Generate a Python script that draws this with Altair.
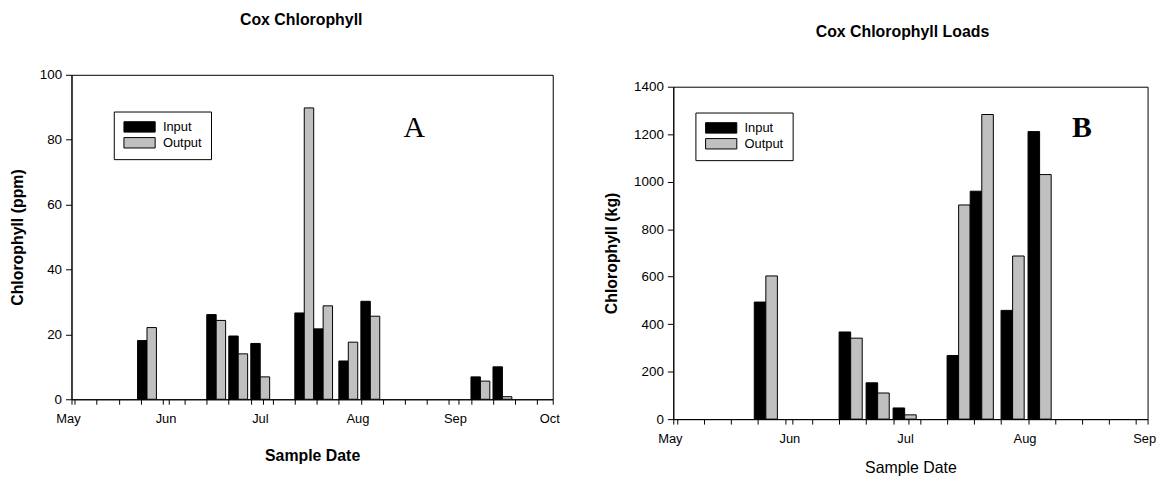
import altair as alt
import pandas as pd

# ---------------- data ----------------
dates_a = ["2001-05-25", "2001-06-16", "2001-06-23", "2001-06-30", "2001-07-14",
           "2001-07-20", "2001-07-28", "2001-08-04", "2001-09-08", "2001-09-15"]
input_a = [18.1, 26.1, 19.5, 17.2, 26.6, 21.7, 11.8, 30.2, 6.9, 10.0]
output_a = [22.1, 24.3, 14.0, 6.9, 89.8, 28.8, 17.6, 25.6, 5.6, 0.8]

dates_b = ["2001-05-25", "2001-06-16", "2001-06-23", "2001-06-30", "2001-07-14",
           "2001-07-20", "2001-07-28", "2001-08-04"]
input_b = [493, 367, 153, 47, 268, 960, 458, 1211]
output_b = [603, 341, 110, 18, 902, 1283, 687, 1030]

series_names = ["Input", "Output"]
series_colors = ["#000000", "#c0c0c0"]
month_labels_a = ["2001-05-01", "2001-06-01", "2001-07-01", "2001-08-01", "2001-09-01", "2001-10-01"]
month_labels_b = ["2001-05-01", "2001-06-01", "2001-07-01", "2001-08-01", "2001-09-01"]
y_ticks_a = [0, 20, 40, 60, 80, 100]
y_ticks_b = [0, 200, 400, 600, 800, 1000, 1200, 1400]

FONT = "Liberation Sans"
SERIF = "Liberation Serif"


def make_table(dates, inp, out):
    rows = []
    for d, i, o in zip(dates, inp, out):
        t = pd.Timestamp(d)
        rows.append({"Series": "Input", "start": t - pd.Timedelta(days=3), "end": t, "value": i})
        rows.append({"Series": "Output", "start": t, "end": t + pd.Timedelta(days=3), "value": o})
    return pd.DataFrame(rows)


def to_dt(s):
    t = pd.Timestamp(s)
    return alt.DateTime(year=t.year, month=t.month, date=t.day, hours=t.hour)


def tick_values(months):
    start = pd.Timestamp(months[0])
    end = pd.Timestamp(months[-1])
    vals = set(pd.Timestamp(m) for m in months)
    t = start + pd.Timedelta(days=1)
    while t <= end:
        vals.add(t)
        t += pd.Timedelta(days=7)
    return [alt.DateTime(year=v.year, month=v.month, date=v.day) for v in sorted(vals)]


def panel(dates, inp, out, months, yticks, ytitle, title, title_dx, xtitle_weight,
          xtitle_pad, width, height, leg_x, leg_y, letter, letter_date, letter_val,
          letter_weight):
    df = make_table(dates, inp, out)
    x_axis = alt.Axis(
        values=tick_values(months), tickCount=500,
        labelExpr="date(datum.value) == 1 ? timeFormat(datum.value, '%b') : ''",
        title="Sample Date", titleFont=FONT, titleFontSize=16,
        titleFontWeight=xtitle_weight, titleColor="black", titlePadding=xtitle_pad,
        labelFont=FONT, labelFontSize=13, labelColor="black", labelPadding=8.5,
        labelOffset=-3.5, labelFlush=False, labelOverlap=False,
        tickSize=5, tickColor="black", tickWidth=1,
        domainColor="black", domainWidth=1, grid=False)
    y_axis = alt.Axis(
        values=yticks, format="d", title=ytitle, titleFont=FONT, titleFontSize=16,
        titleFontWeight="bold", titleColor="black", titlePadding=14,
        labelFont=FONT, labelFontSize=13.5, labelColor="black", labelPadding=4,
        tickSize=6, tickColor="black", tickWidth=1,
        domainColor="black", domainWidth=1, grid=False)
    x_scale = alt.Scale(domain=[to_dt(months[0]), to_dt(months[-1])], padding=0)
    y_scale = alt.Scale(domain=[yticks[0], yticks[-1]], nice=False, zero=True, padding=0)

    bars = alt.Chart(df).mark_bar(stroke="black", strokeWidth=1).encode(
        x=alt.X("start:T", scale=x_scale, axis=x_axis),
        x2="end:T",
        y=alt.Y("value:Q", scale=y_scale, axis=y_axis),
        y2=alt.Y2Datum(0),
        color=alt.Color(
            "Series:N",
            scale=alt.Scale(domain=series_names, range=series_colors),
            legend=alt.Legend(
                title=None, orient="none", legendX=leg_x, legendY=leg_y,
                direction="vertical", symbolType="M-1,-1H5V1H-1Z", symbolSize=110,
                symbolStrokeColor="black", symbolStrokeWidth=1, symbolOpacity=1,
                labelFont=FONT, labelFontSize=13, labelColor="black",
                labelOffset=27.5, padding=9, rowPadding=1,
                strokeColor="black", fillColor="white")),
    )
    letter_df = pd.DataFrame({"t": [letter]})
    text = alt.Chart(letter_df).mark_text(
        font=SERIF, fontSize=30, fontWeight=letter_weight, align="center",
        baseline="alphabetic", color="black").encode(
        x=alt.XDatum(to_dt(letter_date), type="temporal"),
        y=alt.YDatum(letter_val, type="quantitative"),
        text="t:N")
    return alt.layer(bars, text).properties(
        width=width, height=height,
        title=alt.TitleParams(title, font=FONT, fontSize=16, fontWeight="bold",
                              color="black", anchor="middle", frame="group",
                              offset=40.5, dx=title_dx))


def spacer(h):
    return alt.Chart(pd.DataFrame({"s": [0]})).mark_point(
        size=0, opacity=0, strokeWidth=0).encode(
        x=alt.value(0), y=alt.value(0)).properties(
        width=10, height=h, view=alt.ViewBackground(stroke="transparent"))


left = panel(dates_a, input_a, output_a, month_labels_a, y_ticks_a, "Chlorophyll (ppm)",
             "Cox Chlorophyll", -11, "bold", 22, 485, 327, 42.6, 37,
             "A", "2001-08-18", 80.8, "normal")
right = panel(dates_b, input_b, output_b, month_labels_b, y_ticks_b, "Chlorophyll (kg)",
              "Cox Chlorophyll Loads", -8, "normal", 14, 478, 335, 22.3, 26,
              "B", "2001-08-15", 1189, "bold")

chart = alt.hconcat(
    alt.vconcat(spacer(1), left, spacing=0).resolve_legend(color="independent"),
    alt.vconcat(spacer(13), right, spacing=0).resolve_legend(color="independent"),
    spacing=42.5,
).resolve_legend(color="independent").properties(
    padding={"left": 0, "top": -1.5, "right": 0, "bottom": 0}
).configure_view(stroke="black", strokeWidth=1)

chart.save("out.html", embed_options={"renderer": "svg", "actions": False})
